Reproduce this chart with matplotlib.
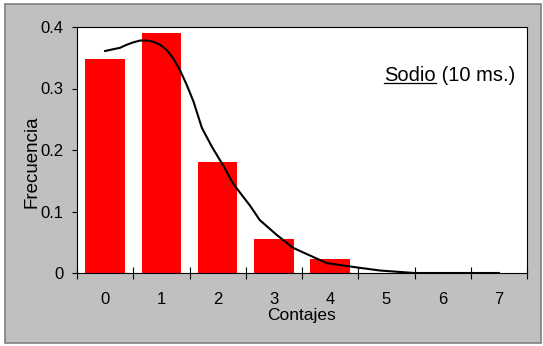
import numpy as np
import matplotlib.pyplot as plt
from matplotlib.patches import Rectangle
from matplotlib.lines import Line2D

plt.rcParams['font.family'] = ['Liberation Sans', 'DejaVu Sans']

# observed frequencies per count
counts = [0, 1, 2, 3, 4, 5, 6, 7]
freq = [0.348, 0.390, 0.181, 0.056, 0.023, 0.0, 0.0, 0.0]

# smoothed fitted curve
curve_x = [0.0, 0.15, 0.26, 0.38, 0.50, 0.62, 0.74, 0.86, 0.98, 1.10, 1.21, 1.33, 1.45, 1.57,
           1.72, 1.90, 2.13, 2.27, 2.58, 2.75, 3.05, 3.34, 3.94, 4.48, 4.89, 5.5, 6.0, 7.0]
curve_y = [0.361, 0.364, 0.366, 0.371, 0.375, 0.378, 0.378, 0.376, 0.371, 0.362, 0.349, 0.330,
           0.306, 0.279, 0.236, 0.205, 0.170, 0.146, 0.109, 0.086, 0.062, 0.041, 0.016, 0.009,
           0.004, 0.0, 0.0, 0.0]

y_ticks = [0, 0.1, 0.2, 0.3, 0.4]
y_labels = ['0', '0.1', '0.2', '0.3', '0.4']

W, H = 543, 346
fig = plt.figure(figsize=(W / 100, H / 100), dpi=100, facecolor='white')

# grey chart area with a dark frame
fig.patches.append(Rectangle((5 / W, 3 / H), 536 / W, 339 / H, transform=fig.transFigure,
                             facecolor='#c0c0c0', edgecolor='#7f7f7f', lw=1.2, zorder=-10))

ax = fig.add_axes([77 / W, (H - 273) / H, 450 / W, 246 / H])
ax.set_facecolor('white')

ax.bar(counts, freq, width=0.7, color='#ff0000', linewidth=0, zorder=2)
ax.plot(curve_x, curve_y, color='black', lw=1.5, zorder=3)

ax.set_xlim(-0.5, 7.5)
ax.set_ylim(0, 0.4)

for s in ax.spines.values():
    s.set_linewidth(0.8)
    s.set_color('black')

ax.set_xticks(np.arange(-0.5, 8, 1))
ax.set_xticklabels([])
ax.tick_params(axis='x', which='major', direction='inout', length=8.6, width=0.8)
ax.set_xticks(counts, minor=True)
ax.set_xticklabels([str(c) for c in counts], minor=True)
ax.tick_params(axis='x', which='minor', length=0, pad=13.5, labelsize=12)

ax.set_yticks(y_ticks)
ax.set_yticklabels(y_labels)
ax.tick_params(axis='y', direction='out', length=3.6, width=0.8, pad=6, labelsize=12)

ax.set_xlabel('Contajes', fontsize=12.5, labelpad=1)
ax.set_ylabel('Frecuencia', fontsize=13.5)
ax.yaxis.set_label_coords(-0.080, 0.453)

# "Sodio (10 ms.)" with underlined "Sodio"
tx, ty = (384 - 77) / 450, (273 - 80.7) / 246
t1 = ax.text(tx, ty, 'Sodio', transform=ax.transAxes, fontsize=14.5, ha='left', va='baseline')
ax.annotate(' (10 ms.)', xy=(1, 0), xycoords=t1, fontsize=14.5, ha='left', va='bottom')

fig.canvas.draw()
bb = t1.get_window_extent()
base = ax.transAxes.transform((tx, ty))[1] - 2.6
inv = fig.transFigure.inverted()
(x0, y0), (x1, _) = inv.transform([(bb.x0, base), (bb.x1, base)])
fig.lines.append(Line2D([x0, x1], [y0, y0], transform=fig.transFigure, color='black', lw=0.9))

fig.savefig('out.png', dpi=100, facecolor=fig.get_facecolor())
